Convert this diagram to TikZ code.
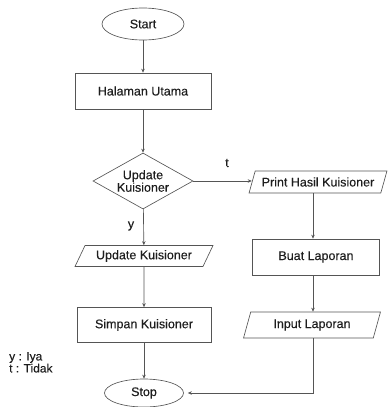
\documentclass[tikz,border=0pt]{standalone}
\usepackage{fontspec}
\setmainfont{Liberation Sans}[FakeBold=0.25]
\usetikzlibrary{shapes.geometric,arrows.meta}
\definecolor{ln}{HTML}{555555}
\definecolor{tx}{HTML}{1E1E1E}
\tikzset{
  base/.style={draw=ln, line width=0.65pt, text=tx, font=\fontsize{12.5}{13}\selectfont, inner sep=0pt},
  term/.style={base, ellipse},
  proc/.style={base, rectangle},
  io/.style={base, trapezium, trapezium stretches=true},
  dec/.style={base, diamond, align=center, font=\fontsize{12.5}{12.5}\selectfont},
  arr/.style={draw=ln, line width=0.65pt, -{Stealth[length=4pt,width=3.5pt]}},
  lbl/.style={text=tx, font=\fontsize{12.5}{13}\selectfont, inner sep=0pt}
}
\begin{document}
\begin{tikzpicture}[x=1pt,y=-1pt]
\useasboundingbox (0,0) rectangle (388,407);
\node[term, minimum width=82pt, minimum height=32pt] (start) at (143,24) {Start};
\node[proc, minimum width=136pt, minimum height=36pt] (hal) at (143,91) {Halaman Utama};
\node[dec, minimum width=100pt, minimum height=56pt, aspect=1.8] (d) at (143,181) {Update\\Kuisioner};
\node[io, trapezium left angle=59, trapezium right angle=121, minimum width=138pt, minimum height=22pt] (print) at (318,182) {Print Hasil Kuisioner};
\node[io, trapezium left angle=55, trapezium right angle=125, minimum width=138pt, minimum height=21pt] (upd) at (144,256) {Update Kuisioner};
\node[proc, minimum width=127pt, minimum height=36pt] (buat) at (316,257) {Buat Laporan};
\node[proc, minimum width=134pt, minimum height=35pt] (simpan) at (144,325) {Simpan Kuisioner};
\node[io, trapezium left angle=68, trapezium right angle=112, minimum width=137pt, minimum height=26pt] (input) at (312,325) {Input Laporan};
\node[term, minimum width=79pt, minimum height=28pt] (stop) at (144,393) {Stop};
\coordinate (colx) at (313,0);
\node[lbl] (t) at (227,163) {t};
\node[lbl] (y) at (131,226) {y};
\node[lbl, anchor=north west, align=left, font=\fontsize{12}{12}\selectfont] (legend) at (9,352) {y : Iya\\t : Tidak};
\draw[arr] (start) -- (hal);
\draw[arr] (hal) -- (d);
\draw[arr] (d.east) -- (d.east -| print.west);
\draw[arr] (d) -- (upd);
\draw[arr] (upd) -- (simpan);
\draw[arr] (simpan) -- (stop);
\draw[arr] (print.south -| colx) -- (buat.north -| colx);
\draw[arr] (buat.south -| colx) -- (input.north -| colx);
\draw[arr] (input.south -| colx) |- ([xshift=4pt]stop.east);
\end{tikzpicture}
\end{document}
